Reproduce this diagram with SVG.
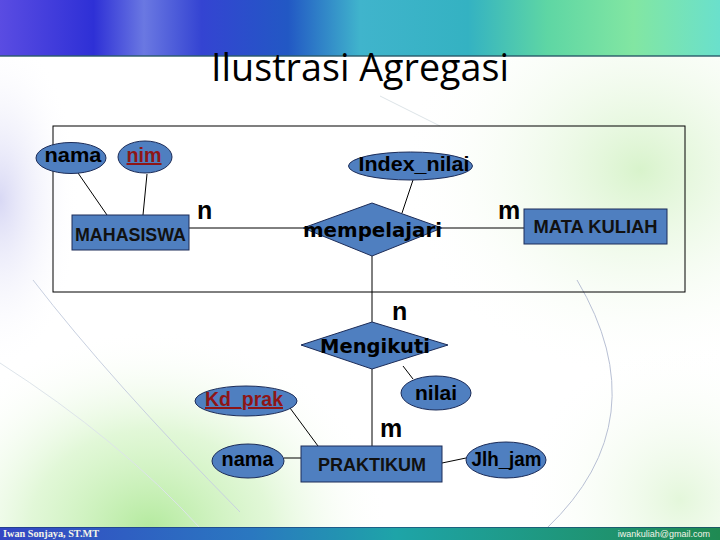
<svg xmlns="http://www.w3.org/2000/svg" width="720" height="540" viewBox="0 0 720 540">
<defs>
<linearGradient id="banner" x1="0" y1="0" x2="1" y2="0">
<stop offset="0" stop-color="#5a4ce2"/>
<stop offset="0.13" stop-color="#2e30d6"/>
<stop offset="0.2" stop-color="#6a78e2"/>
<stop offset="0.28" stop-color="#3444d2"/>
<stop offset="0.4" stop-color="#2258c4"/>
<stop offset="0.5" stop-color="#40b4cc"/>
<stop offset="0.65" stop-color="#34b2c2"/>
<stop offset="0.76" stop-color="#5ed6a4"/>
<stop offset="0.88" stop-color="#82e6a2"/>
<stop offset="1" stop-color="#6ae0cc"/>
</linearGradient>
<linearGradient id="footer" x1="0" y1="0" x2="1" y2="0">
<stop offset="0" stop-color="#3446c4"/>
<stop offset="0.35" stop-color="#2a78c0"/>
<stop offset="0.55" stop-color="#1ea4a8"/>
<stop offset="1" stop-color="#1f8a52"/>
</linearGradient>
<radialGradient id="fadeGreen">
<stop offset="0" stop-color="#a6e68c" stop-opacity="0.85"/>
<stop offset="0.5" stop-color="#c4f0b0" stop-opacity="0.5"/>
<stop offset="1" stop-color="#ffffff" stop-opacity="0"/>
</radialGradient>
<radialGradient id="fadeMint">
<stop offset="0" stop-color="#d4f2c6" stop-opacity="0.9"/>
<stop offset="1" stop-color="#ffffff" stop-opacity="0"/>
</radialGradient>
<radialGradient id="fadeLav">
<stop offset="0" stop-color="#d6d6f4" stop-opacity="0.95"/>
<stop offset="1" stop-color="#ffffff" stop-opacity="0"/>
</radialGradient>
<style>
.shape{fill:#4f7fc0;stroke:#1c2c58;stroke-width:1}
.conn{stroke:#000;stroke-width:1;fill:none}
.lbl{font-family:"Liberation Sans",Arial,sans-serif;font-weight:bold;font-size:20px;fill:#000;text-anchor:middle}
.ent{font-family:"Liberation Sans",Arial,sans-serif;font-weight:bold;font-size:17.5px;fill:#111;text-anchor:middle}
.rel{font-family:"DejaVu Sans",Verdana,sans-serif;font-weight:bold;font-size:19.5px;fill:#000;text-anchor:middle}
.card{font-family:"Liberation Sans",Arial,sans-serif;font-weight:bold;font-size:25px;fill:#000}
.key{fill:#8e1616;text-decoration:underline}
.arc{fill:none;stroke-width:1}
</style>
</defs>
<!-- background -->
<rect x="0" y="0" width="720" height="540" fill="#ffffff"/>
<ellipse cx="0" cy="200" rx="80" ry="170" fill="url(#fadeLav)"/>
<ellipse cx="640" cy="170" rx="240" ry="210" fill="url(#fadeMint)"/>
<ellipse cx="150" cy="530" rx="240" ry="200" fill="url(#fadeGreen)"/>
<ellipse cx="680" cy="500" rx="160" ry="160" fill="url(#fadeMint)" opacity="0.7"/>
<path class="arc" d="M33,280 Q110,380 240,512" stroke="#c8d0e0"/>
<path class="arc" d="M0,363 Q120,440 200,528" stroke="#dde4ea"/>
<path class="arc" d="M577,280 Q660,420 547,528" stroke="#b8c0d4"/>
<path class="arc" d="M380,96 L440,126" stroke="#dde4e8"/>
<!-- banner -->
<rect x="0" y="0" width="720" height="56" fill="url(#banner)"/>
<rect x="0" y="55" width="720" height="2" fill="#2a5a6a" opacity="0.7"/>
<!-- footer -->
<rect x="0" y="527" width="720" height="13" fill="url(#footer)"/>
<rect x="0" y="527" width="720" height="1" fill="#1a3a70" opacity="0.6"/>
<text x="3" y="537" font-family="'Liberation Serif','Times New Roman',serif" font-weight="bold" font-size="10" fill="#f4f4e8" textLength="96" lengthAdjust="spacingAndGlyphs">Iwan Sonjaya, ST.MT</text>
<text x="710" y="537" font-family="'Liberation Sans',Arial,sans-serif" font-size="9" fill="#f4f4e8" text-anchor="end">iwankuliah@gmail.com</text>
<!-- title -->
<text x="360" y="81" font-family="'Open Sans','Noto Sans',sans-serif" font-size="38" fill="#000" text-anchor="middle" textLength="298" lengthAdjust="spacingAndGlyphs">Ilustrasi Agregasi</text>
<!-- aggregation frame -->
<rect x="53" y="126" width="632" height="166" fill="none" stroke="#000" stroke-width="1"/>
<!-- connectors -->
<g id="connectors">
<line class="conn" x1="78" y1="173" x2="107" y2="215"/>
<line class="conn" x1="147" y1="174" x2="143" y2="215"/>
<line class="conn" x1="189" y1="228" x2="303" y2="228"/>
<line class="conn" x1="442" y1="228" x2="524" y2="228"/>
<line class="conn" x1="413" y1="180" x2="402" y2="213"/>
<line class="conn" x1="372" y1="256" x2="372" y2="322"/>
<line class="conn" x1="372" y1="369" x2="372" y2="446"/>
<line class="conn" x1="403" y1="366" x2="413" y2="379"/>
<line class="conn" x1="290" y1="408" x2="318" y2="446"/>
<line class="conn" x1="284" y1="458" x2="301" y2="458"/>
<line class="conn" x1="442" y1="463" x2="466" y2="458"/>
<text class="card" x="197" y="219">n</text>
<text class="card" x="498" y="219">m</text>
<text class="card" x="392" y="320" font-size="23">n</text>
<text class="card" x="380" y="437">m</text>
</g>
<!-- nodes -->
<g id="attr-nama">
<ellipse class="shape" cx="71" cy="158" rx="35" ry="15.5"/>
<text class="lbl" x="73" y="162" textLength="57" lengthAdjust="spacingAndGlyphs">nama</text>
</g>
<g id="attr-nim">
<ellipse class="shape" cx="145" cy="157" rx="27" ry="16"/>
<text class="lbl key" x="144" y="162" textLength="35" lengthAdjust="spacingAndGlyphs">nim</text>
</g>
<g id="mahasiswa">
<rect class="shape" x="72" y="215" width="117" height="35"/>
<text class="ent" x="130.5" y="241" textLength="111" lengthAdjust="spacingAndGlyphs">MAHASISWA</text>
</g>
<g id="attr-index-nilai">
<ellipse class="shape" cx="410.5" cy="166" rx="62" ry="14"/>
<text class="lbl" x="414" y="171" textLength="111" lengthAdjust="spacingAndGlyphs">Index_nilai</text>
</g>
<g id="mempelajari">
<polygon class="shape" points="372,203 442,228 372,256 303,228"/>
<text class="rel" x="372.5" y="237" textLength="139" lengthAdjust="spacingAndGlyphs">mempelajari</text>
</g>
<g id="mata-kuliah">
<rect class="shape" x="524" y="209" width="143" height="35"/>
<text class="ent" x="595.5" y="233" textLength="124" lengthAdjust="spacingAndGlyphs">MATA KULIAH</text>
</g>
<g id="mengikuti">
<polygon class="shape" points="372,322 448,345 372,369 301,345"/>
<text class="rel" x="375" y="353" textLength="110" lengthAdjust="spacingAndGlyphs">Mengikuti</text>
</g>
<g id="attr-nilai">
<ellipse class="shape" cx="436" cy="393" rx="35" ry="17"/>
<text class="lbl" x="436" y="400" textLength="42" lengthAdjust="spacingAndGlyphs">nilai</text>
</g>
<g id="attr-kd-prak">
<ellipse class="shape" cx="246" cy="401" rx="51" ry="15"/>
<text class="lbl key" x="244" y="406" textLength="78" lengthAdjust="spacingAndGlyphs">Kd_prak</text>
</g>
<g id="attr-nama-prak">
<ellipse class="shape" cx="248" cy="461" rx="36" ry="17"/>
<text class="lbl" x="247.5" y="466" textLength="52" lengthAdjust="spacingAndGlyphs">nama</text>
</g>
<g id="praktikum">
<rect class="shape" x="301" y="446" width="141" height="36"/>
<text class="ent" x="372" y="471" textLength="108" lengthAdjust="spacingAndGlyphs">PRAKTIKUM</text>
</g>
<g id="attr-jlh-jam">
<ellipse class="shape" cx="506" cy="460" rx="40" ry="18"/>
<text class="lbl" x="506.5" y="466" textLength="70" lengthAdjust="spacingAndGlyphs">Jlh_jam</text>
</g>
</svg>
